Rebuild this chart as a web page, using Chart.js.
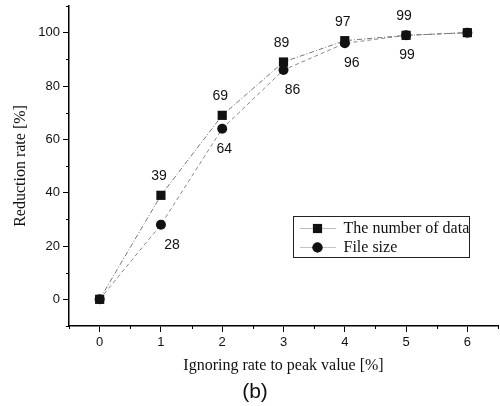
<!DOCTYPE html>
<html>
<head>
<meta charset="utf-8">
<script src="https://cdn.jsdelivr.net/npm/chart.js@4.4.1/dist/chart.umd.min.js"></script>
<style>
  html, body { margin: 0; padding: 0; background: #fff; }
  #wrap { width: 500px; height: 406px; }
</style>
</head>
<body>
<div id="wrap"><canvas id="canvas" width="500" height="406"></canvas></div>
<script>
// ignoring rate (x) and reduction rates (y) for both curves
var rates = [0, 1, 2, 3, 4, 5, 6];
var numberOfData = [0, 39, 69, 89, 97, 99, 100];
var fileSize = [0, 28, 64, 86, 96, 99, 100];
var xTicks = [0, 1, 2, 3, 4, 5, 6];
var yTicks = [0, 20, 40, 60, 80, 100];

// which points get a number printed next to them
var labelled = [1, 2, 3, 4, 5];
// small per-point nudges for the numbers under the circles
var belowNudge = [0, 11, 2, 9, 7, 1, 0];

function toPoints(ys) {
    return rates.map(function (x, i) { return { x: x, y: ys[i] }; });
}

var sans = "'Liberation Sans', Arial, sans-serif";
var serif = "'Liberation Serif', 'Times New Roman', serif";

// short ticks between the labelled ones
var minorTicks = {
    id: 'minorTicks',
    afterDraw: function (chart) {
        var ctx = chart.ctx, xs = chart.scales.x, ys = chart.scales.y;
        ctx.save();
        ctx.strokeStyle = '#000';
        ctx.lineWidth = 1;
        ctx.beginPath();
        for (var v = -0.5; v <= 6.5; v += 1) {
            var px = Math.round(xs.getPixelForValue(v)) + 0.5;
            ctx.moveTo(px, ys.bottom);
            ctx.lineTo(px, ys.bottom + 3);
        }
        for (var w = -10; w <= 110; w += 20) {
            var py = Math.round(ys.getPixelForValue(w)) + 0.5;
            ctx.moveTo(xs.left, py);
            ctx.lineTo(xs.left - 3, py);
        }
        ctx.stroke();
        ctx.restore();
    }
};

// numbers printed beside the markers
var valueLabels = {
    id: 'valueLabels',
    afterDatasetsDraw: function (chart) {
        var ctx = chart.ctx;
        ctx.save();
        ctx.font = '14px ' + sans;
        ctx.fillStyle = '#111';
        ctx.textAlign = 'center';
        ctx.textBaseline = 'middle';
        var top = chart.getDatasetMeta(0).data;
        var bottom = chart.getDatasetMeta(1).data;
        labelled.forEach(function (i) {
            ctx.fillText(String(numberOfData[i]), top[i].x - 2, top[i].y - 19);
            ctx.fillText(String(fileSize[i]), bottom[i].x + belowNudge[i], bottom[i].y + 20);
        });
        ctx.restore();
    }
};

// boxed legend inside the plot area, plus the panel letter
var boxLegend = {
    id: 'boxLegend',
    afterDraw: function (chart) {
        var ctx = chart.ctx;
        var bx = 293.5, by = 216.5, bw = 176, bh = 41;
        ctx.save();
        ctx.fillStyle = '#fff';
        ctx.fillRect(bx, by, bw, bh);
        ctx.strokeStyle = '#222';
        ctx.lineWidth = 1;
        ctx.strokeRect(bx, by, bw, bh);
        chart.data.datasets.forEach(function (ds, i) {
            var cy = by + 12 + i * 19;
            ctx.strokeStyle = ds.borderColor;
            ctx.setLineDash([1, 1]);
            ctx.beginPath();
            ctx.moveTo(bx + 7, cy);
            ctx.lineTo(bx + 42, cy);
            ctx.stroke();
            ctx.setLineDash([]);
            Chart.helpers.drawPoint(ctx, {
                pointStyle: ds.pointStyle,
                radius: ds.pointRadius,
                borderWidth: 0
            }, bx + 24, cy);
            ctx.fillStyle = '#111';
            ctx.fill();
            ctx.font = '16px ' + serif;
            ctx.textAlign = 'left';
            ctx.textBaseline = 'middle';
            ctx.fillText(ds.label, bx + 50, cy);
        });
        ctx.font = '21px ' + sans;
        ctx.textAlign = 'center';
        ctx.fillText('(b)', 255, 392);
        ctx.restore();
    }
};

var ctx = document.getElementById('canvas').getContext('2d');
var myChart = new Chart(ctx, {
    type: 'scatter',
    data: {
        datasets: [{
            label: 'The number of data',
            data: toPoints(numberOfData),
            showLine: true,
            borderColor: '#777',
            borderWidth: 1,
            borderDash: [5, 2, 1, 2],
            pointStyle: 'rect',
            pointRadius: 6.5,
            pointBackgroundColor: '#111',
            pointBorderWidth: 0
        }, {
            label: 'File size',
            data: toPoints(fileSize),
            showLine: true,
            borderColor: '#888',
            borderWidth: 1,
            borderDash: [4, 3],
            pointStyle: 'circle',
            pointRadius: 5,
            pointBackgroundColor: '#111',
            pointBorderWidth: 0
        }]
    },
    options: {
        responsive: false,
        animation: false,
        layout: { autoPadding: false, padding: { top: 6, right: 2, left: 0, bottom: 0 } },
        plugins: {
            legend: { display: false },
            tooltip: { enabled: false }
        },
        scales: {
            x: {
                type: 'linear',
                min: -0.5,
                max: 6.5,
                afterBuildTicks: function (s) { s.ticks = xTicks.map(function (v) { return { value: v }; }); },
                afterFit: function (s) { s.height = 80; s.paddingLeft = 0; s.paddingRight = 0; },
                border: { display: true, color: '#000', width: 1.5 },
                grid: { drawOnChartArea: false, drawTicks: true, tickLength: 6, tickColor: '#000', tickWidth: 1 },
                ticks: { color: '#111', font: { family: sans, size: 13 }, padding: 3, maxRotation: 0 },
                title: {
                    display: true,
                    text: 'Ignoring rate to peak value [%]',
                    color: '#111',
                    font: { family: serif, size: 16 },
                    padding: { top: 0, bottom: 31 }
                }
            },
            y: {
                type: 'linear',
                min: -10,
                max: 110,
                afterBuildTicks: function (s) { s.ticks = yTicks.map(function (v) { return { value: v }; }); },
                afterFit: function (s) { s.width = 69; s.paddingTop = 0; s.paddingBottom = 0; },
                border: { display: true, color: '#000', width: 1.5 },
                grid: { drawOnChartArea: false, drawTicks: true, tickLength: 6, tickColor: '#000', tickWidth: 1 },
                ticks: { color: '#111', font: { family: sans, size: 13 }, padding: 3 },
                title: {
                    display: true,
                    text: 'Reduction rate [%]',
                    color: '#111',
                    font: { family: serif, size: 16 },
                    padding: { top: 11, bottom: 0 }
                }
            }
        }
    },
    plugins: [minorTicks, valueLabels, boxLegend]
});
</script>
</body>
</html>
